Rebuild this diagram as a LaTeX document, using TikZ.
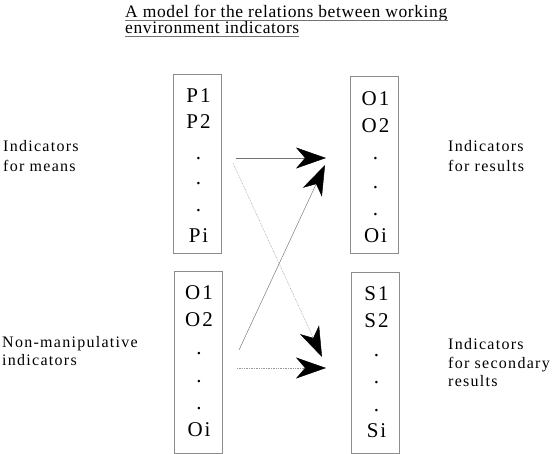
\documentclass[tikz,border=0pt]{standalone}
\usepackage{fontspec}
\setmainfont{Liberation Serif}
\newfontfamily\lsp[LetterSpace=8]{Liberation Serif}
\newfontfamily\tsp[LetterSpace=3.5]{Liberation Serif}
\newfontfamily\bsp[LetterSpace=9]{Liberation Serif}
\usetikzlibrary{arrows.meta}
\begin{document}
\begin{tikzpicture}[x=1pt,y=-1pt,
  boxst/.style={draw=black!45,line width=0.5pt,minimum width=48pt,inner sep=0pt},
  intext/.style={anchor=base,inner sep=0pt,font=\fontsize{21}{21}\bsp},
  lab/.style={anchor=base west,inner sep=0pt,font=\fontsize{16}{18}\lsp},
  ttl/.style={anchor=base west,inner sep=0pt,font=\fontsize{17.5}{19}\tsp},
  conn/.style={draw=black!55,line width=0.45pt,-{Stealth[length=30pt,width=21pt,inset=9pt,color=black]}},
  dconn/.style={conn,draw=black!40,dash pattern=on 0.8pt off 0.9pt}]
\useasboundingbox (0,0) rectangle (558,454);
% title
\node[ttl] (t1) at (125,18) {A model for the relations between working};
\node[ttl] (t2) at (125,34) {environment indicators};
\draw[black!55,line width=0.5pt] ([yshift=-2.5pt]t1.base west) -- ([yshift=-2.5pt]t1.base east);
\draw[black!55,line width=0.5pt] ([yshift=-2.5pt]t2.base west) -- ([yshift=-2.5pt]t2.base east);
% boxes
\node[boxst,minimum height=179pt] (bP) at (197.5,163.5) {};
\node[boxst,minimum height=177pt] (bO) at (374.5,164.5) {};
\node[boxst,minimum height=182pt] (bN) at (198,362) {};
\node[boxst,minimum height=181pt] (bS) at (375.5,362.5) {};
% box contents
\node[intext] (p1) at (198.5,103) {P1};
\node[intext] (p2) at (198.5,129) {P2};
\node[intext] (pd1) at (198.5,160) {.};
\node[intext] (pd2) at (198.5,185) {.};
\node[intext] (pd3) at (198.5,212) {.};
\node[intext] (pi) at (198.5,243) {Pi};
\node[intext] (o1) at (375.5,105.5) {O1};
\node[intext] (o2) at (375.5,132.5) {O2};
\node[intext] (od1) at (375.5,160) {.};
\node[intext] (od2) at (375.5,189) {.};
\node[intext] (od3) at (375.5,216) {.};
\node[intext] (oi) at (375.5,243) {Oi};
\node[intext] (n1) at (199,300) {O1};
\node[intext] (n2) at (199,327) {O2};
\node[intext] (nd1) at (199,355) {.};
\node[intext] (nd2) at (199,383) {.};
\node[intext] (nd3) at (199,410) {.};
\node[intext] (ni) at (199,437) {Oi};
\node[intext] (s1) at (376.5,301) {S1};
\node[intext] (s2) at (376.5,328) {S2};
\node[intext] (sd1) at (376.5,357) {.};
\node[intext] (sd2) at (376.5,384) {.};
\node[intext] (sd3) at (376.5,412) {.};
\node[intext] (si) at (376.5,438) {Si};
% labels
\node[lab] (l1a) at (3,152) {Indicators};
\node[lab] (l1b) at (3,171.5) {for means};
\node[lab] (l2a) at (2,348) {Non-manipulative};
\node[lab] (l2b) at (2,366) {indicators};
\node[lab] (r1a) at (448,152) {Indicators};
\node[lab] (r1b) at (448,172) {for results};
\node[lab] (r2a) at (448,350) {Indicators};
\node[lab] (r2b) at (448,369) {for secondary};
\node[lab] (r2c) at (448,387) {results};
% connectors
\coordinate (a1s) at (236,158);
\coordinate (a1e) at (326,158);
\coordinate (a2s) at (233,163);
\coordinate (a2e) at (322,357);
\coordinate (a3s) at (239,350);
\coordinate (a3e) at (325,165);
\coordinate (a4s) at (237,368);
\coordinate (a4e) at (326,368);
\draw[conn] (a1s) -- (a1e);
\draw[dconn] (a2s) -- (a2e);
\draw[conn] (a3s) -- (a3e);
\draw[dconn] (a4s) -- (a4e);
\end{tikzpicture}
\end{document}
